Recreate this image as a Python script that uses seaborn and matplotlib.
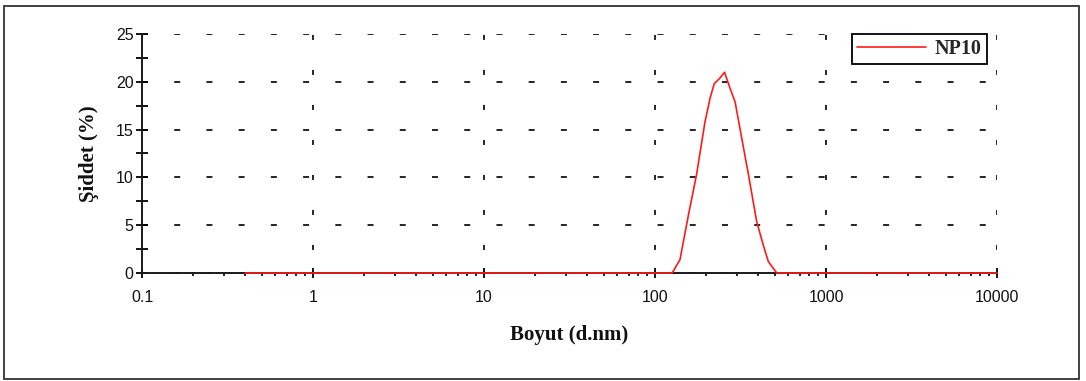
import matplotlib
matplotlib.use("Agg")
import matplotlib.pyplot as plt
from matplotlib.patches import Rectangle
from matplotlib.ticker import LogLocator, FixedLocator, NullFormatter
import seaborn as sns
import pandas as pd

# Size distribution by intensity
size_nm = [0.4, 1, 10, 100, 126, 140, 157, 175, 196, 210, 222, 240, 255, 275,
           294, 314, 352, 393, 430, 460, 515, 1000, 10000]
intensity = [0, 0, 0, 0, 0, 1.4, 6.1, 10.3, 15.8, 18.3, 19.8, 20.4, 21.0, 19.3,
             17.9, 15.1, 10.3, 5.4, 2.9, 1.2, 0, 0, 0]
series_name = "NP10"
x_ticks = [0.1, 1, 10, 100, 1000, 10000]
x_tick_labels = ["0.1", "1", "10", "100", "1000", "10000"]
y_ticks = [0, 5, 10, 15, 20, 25]

df = pd.DataFrame({"size": size_nm, "intensity": intensity})

sns.set_theme(style="white")
plt.rcParams["lines.scale_dashes"] = False

fig = plt.figure(figsize=(10.86, 3.81), dpi=100, facecolor="white")
ax = fig.add_axes([142 / 1086, 1 - 273 / 381, 855 / 1086, 239 / 381])
ax.set_facecolor("white")

sns.lineplot(data=df, x="size", y="intensity", ax=ax, color="#ff1a1a",
             linewidth=1.2, label=series_name, clip_on=False, zorder=5)

ax.set_xscale("log")
ax.set_xlim(0.1, 10000)
ax.set_ylim(0, 25)

ax.xaxis.set_major_locator(FixedLocator(x_ticks))
ax.set_xticklabels(x_tick_labels)
ax.xaxis.set_minor_locator(LogLocator(base=10, subs=range(2, 10)))
ax.xaxis.set_minor_formatter(NullFormatter())
ax.yaxis.set_major_locator(FixedLocator(y_ticks))
ax.yaxis.set_minor_locator(FixedLocator([2.5, 7.5, 12.5, 17.5, 22.5]))

for lbl in ax.get_xticklabels() + ax.get_yticklabels():
    lbl.set_fontfamily("Liberation Sans")
    lbl.set_fontsize(11.5)
    lbl.set_color("#111111")

ax.tick_params(axis="x", which="major", direction="inout", length=7, width=1.3,
               color="black", pad=9, bottom=True)
ax.tick_params(axis="x", which="minor", direction="out", length=2.5, width=1.2,
               color="black", bottom=True)
ax.tick_params(axis="y", which="major", direction="inout", length=8, width=1.3,
               color="black", pad=2, left=True)
ax.tick_params(axis="y", which="minor", direction="inout", length=8, width=1.3,
               color="black", left=True)

for side in ("top", "right"):
    ax.spines[side].set_visible(False)
for side in ("left", "bottom"):
    ax.spines[side].set_color("#1a1a1a")
    ax.spines[side].set_linewidth(1.4)

# sparse dashed grid
ax.yaxis.grid(True, which="major", color="black", linewidth=1.2,
              linestyle=(0, (4.3, 18.9)))
ax.xaxis.grid(True, which="major", color="black", linewidth=1.2,
              linestyle=(8.6, (3.6, 21.6)))

ax.set_xlabel("Boyut (d.nm)", fontfamily="Liberation Serif", fontweight="bold",
              fontsize=15, color="#111111", labelpad=14)
ax.set_ylabel("Şiddet (%)", fontfamily="Liberation Serif", fontweight="bold",
              fontsize=15, color="#111111", labelpad=12)

leg = ax.legend(loc="upper right", bbox_to_anchor=(0.988, 1.0),
                borderaxespad=0, frameon=True, fancybox=False,
                handlelength=3.4, handletextpad=0.45, borderpad=0.25,
                prop={"family": "Liberation Serif", "weight": "bold", "size": 14.5})
leg.get_frame().set_edgecolor("black")
leg.get_frame().set_linewidth(1.3)
leg.get_frame().set_alpha(1)

# outer frame around the figure
fig.patches.append(Rectangle((4 / 1086, 1 - 379 / 381), 1075 / 1086, 373 / 381,
                             transform=fig.transFigure, fill=False,
                             edgecolor="#333333", linewidth=1.3))

fig.savefig("out.png", dpi=100, facecolor="white")
